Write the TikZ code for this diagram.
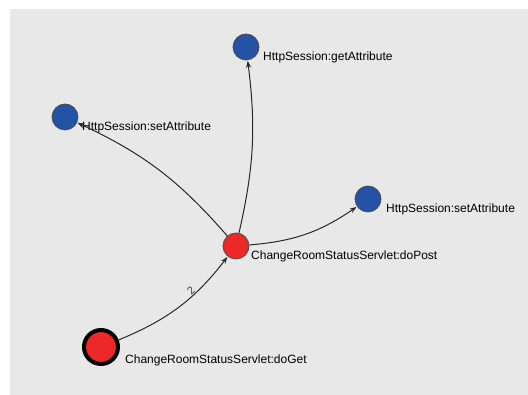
\documentclass[tikz,border=0pt]{standalone}
\usepackage{fontspec}
\setmainfont{Liberation Sans}
\usetikzlibrary{arrows.meta}
\definecolor{bggray}{RGB}{232,232,232}
\definecolor{nodered}{RGB}{236,40,40}
\definecolor{nodeblue}{RGB}{36,82,166}
\definecolor{edgegray}{RGB}{40,40,40}
\definecolor{lblred}{RGB}{130,40,50}
\tikzset{
  rednode/.style={circle, fill=nodered, draw=black!70, line width=0.8pt, minimum size=26pt, inner sep=0pt},
  startnode/.style={circle, fill=nodered, draw=black, line width=4pt, minimum size=34pt, inner sep=0pt},
  bluenode/.style={circle, fill=nodeblue, draw=black!70, line width=0.8pt, minimum size=26pt, inner sep=0pt},
  lbl/.style={anchor=west, inner sep=0pt, font=\fontsize{12}{14}\selectfont, text=black},
  conn/.style={draw=edgegray, line width=1pt, -{Stealth[length=7pt,width=5pt]}, shorten >=0.5pt},
}
\begin{document}
\begin{tikzpicture}[x=1pt,y=-1pt]
\useasboundingbox (0,0) rectangle (528,395);
\fill[white] (0,0) rectangle (528,395);
\fill[bggray] (10,9) rectangle (528,395);
% nodes
\node[startnode] (doget) at (101,347) {};
\node[rednode] (dopost) at (236,246) {};
\node[bluenode] (getattr) at (246,47) {};
\node[bluenode] (setl) at (65,117) {};
\node[bluenode] (setr) at (368,199) {};
% labels
\node[lbl] (ldoget) at (125,360) {ChangeRoomStatusServlet:doGet};
\node[lbl] (ldopost) at (251,256) {ChangeRoomStatusServlet:doPost};
\node[lbl] (lget) at (263,57) {HttpSession:getAttribute};
\node[lbl] (lsetl) at (82,127) {HttpSession:setAttribute};
\node[lbl] (lsetr) at (386,209) {HttpSession:setAttribute};
% connectors
\draw[conn] (doget) to[bend right=15] node[pos=0.65, above, sloped, inner sep=0.5pt, font=\fontsize{11}{12}\selectfont, text=lblred] (two) {2} (dopost);
\draw[conn] (dopost) to[bend right=10] (getattr);
\draw[conn] (dopost) to[bend right=12] (setl);
\draw[conn] (dopost) to[bend right=15] (setr);
\end{tikzpicture}
\end{document}
